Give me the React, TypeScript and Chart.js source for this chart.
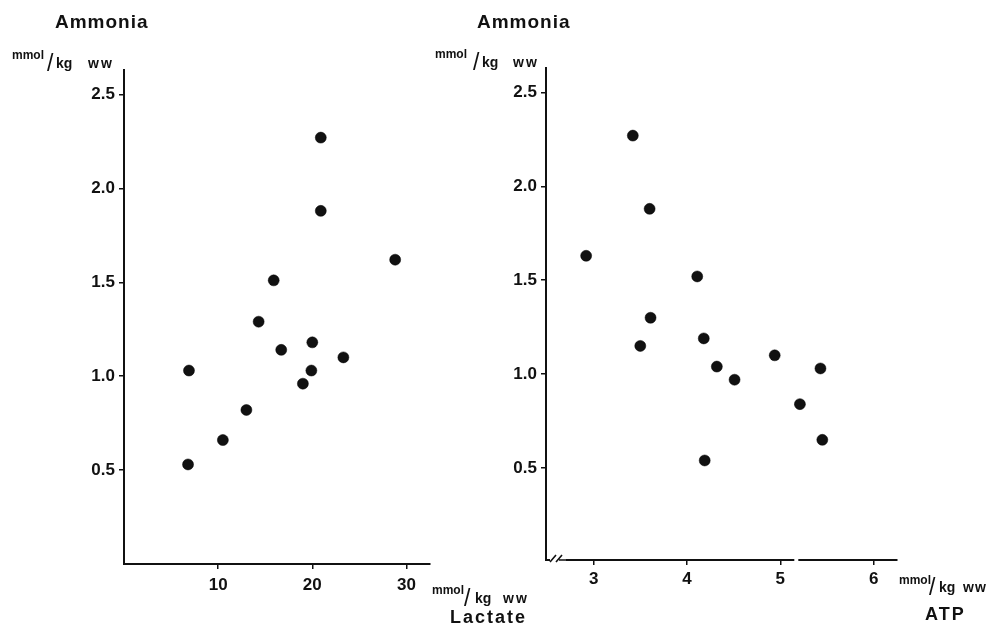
import React, { useEffect, useRef } from "react";
import { Chart, registerables } from "chart.js";

Chart.register(...registerables);

// ---- data ----
const lactate = [20.9, 20.9, 28.8, 15.9, 14.3, 16.7, 20.0, 23.3, 19.9, 19.0, 6.9, 13.0, 10.5, 6.8];
const ammoniaVsLactate = [2.27, 1.88, 1.62, 1.51, 1.29, 1.14, 1.18, 1.10, 1.03, 0.96, 1.03, 0.82, 0.66, 0.53];
const atp = [3.42, 3.60, 2.92, 4.11, 3.61, 3.50, 4.18, 4.32, 4.51, 4.94, 5.43, 5.21, 5.45, 4.19];
const ammoniaVsAtp = [2.27, 1.88, 1.63, 1.52, 1.30, 1.15, 1.19, 1.04, 0.97, 1.10, 1.03, 0.84, 0.65, 0.54];
const yTickValues = [0.5, 1.0, 1.5, 2.0, 2.5];
const yTickLabels = ["0.5", "1.0", "1.5", "2.0", "2.5"];
const lactateTickValues = [10, 20, 30];
const lactateTickLabels = ["10", "20", "30"];
const atpTickValues = [3, 4, 5, 6];
const atpTickLabels = ["3", "4", "5", "6"];

const FONT = "'Liberation Sans', Arial, Helvetica, sans-serif";
const INK = "#111";

type TextItem = { text: string; x: number; y: number; size: number; bold?: boolean; spacing?: number };

function textPlugin(id: string, items: TextItem[], axisBreak: boolean) {
  return {
    id,
    afterDraw(chart: any) {
      const ctx = chart.ctx as CanvasRenderingContext2D;
      ctx.save();
      ctx.fillStyle = INK;
      ctx.textBaseline = "alphabetic";
      ctx.textAlign = "left";
      for (const t of items) {
        ctx.font = `${t.bold === false ? "normal" : "bold"} ${t.size}px ${FONT}`;
        (ctx as any).letterSpacing = `${t.spacing || 0}px`;
        ctx.fillText(t.text, t.x, t.y);
      }
      (ctx as any).letterSpacing = "0px";
      if (axisBreak) {
        const a = chart.chartArea;
        const b = a.bottom;
        const l = a.left;
        ctx.fillStyle = "#fff";
        ctx.fillRect(l + 4, b - 4, 16, 8);
        // small scan gap in the axis line between 5 and 6
        const gx = chart.scales.x.getPixelForValue(5.15);
        ctx.fillRect(gx, b - 2, 4, 4);
        ctx.strokeStyle = INK;
        ctx.lineWidth = 1.6;
        ctx.beginPath();
        ctx.moveTo(l + 4, b + 2);
        ctx.lineTo(l + 10, b - 5);
        ctx.moveTo(l + 10, b + 2);
        ctx.lineTo(l + 16, b - 5);
        ctx.moveTo(l + 13, b);
        ctx.lineTo(l + 21, b);
        ctx.stroke();
      }
      ctx.restore();
    },
  };
}

function makeConfig(o: {
  xs: number[];
  ys: number[];
  xMin: number;
  xMax: number;
  xTicks: number[];
  xLabels: string[];
  yMin: number;
  yMax: number;
  padding: { left: number; right: number; top: number; bottom: number };
  yWidth: number;
  xHeight: number;
  xPad: number;
  texts: TextItem[];
  axisBreak: boolean;
  id: string;
}): any {
  const tickFont = { family: FONT, size: 17, weight: "bold" as const };
  return {
    type: "scatter",
    data: {
      datasets: [
        {
          data: o.xs.map((x, i) => ({ x, y: o.ys[i] })),
          pointRadius: 5.5,
          pointBackgroundColor: INK,
          pointBorderColor: "#000",
          pointBorderWidth: 0.5,
        },
      ],
    },
    options: {
      responsive: false,
      animation: false,
      devicePixelRatio: 1,
      layout: { padding: o.padding },
      plugins: { legend: { display: false }, tooltip: { enabled: false }, title: { display: false } },
      scales: {
        x: {
          type: "linear",
          min: o.xMin,
          max: o.xMax,
          afterBuildTicks: (s: any) => {
            s.ticks = o.xTicks.map((v) => ({ value: v }));
          },
          afterFit: (s: any) => {
            s.height = o.xHeight;
          },
          grid: { display: true, drawOnChartArea: false, drawTicks: true, tickLength: 5, color: INK, lineWidth: 1.5 },
          border: { display: true, color: INK, width: 2 },
          ticks: {
            color: INK,
            font: tickFont,
            padding: o.xPad,
            maxRotation: 0,
            autoSkip: false,
            callback: (_v: any, i: number) => o.xLabels[i],
          },
        },
        y: {
          type: "linear",
          min: o.yMin,
          max: o.yMax,
          afterBuildTicks: (s: any) => {
            s.ticks = yTickValues.map((v) => ({ value: v }));
          },
          afterFit: (s: any) => {
            s.width = o.yWidth;
          },
          grid: { display: true, drawOnChartArea: false, drawTicks: true, tickLength: 5, color: INK, lineWidth: 1.5 },
          border: { display: true, color: INK, width: 2 },
          ticks: {
            color: INK,
            font: tickFont,
            padding: 4,
            autoSkip: false,
            callback: (_v: any, i: number) => yTickLabels[i],
          },
        },
      },
    },
    plugins: [textPlugin(o.id, o.texts, o.axisBreak)],
  };
}

export default function App() {
  const leftRef = useRef<HTMLCanvasElement>(null);
  const rightRef = useRef<HTMLCanvasElement>(null);

  useEffect(() => {
    const left = new Chart(
      leftRef.current as HTMLCanvasElement,
      makeConfig({
        id: "leftTexts",
        xs: lactate,
        ys: ammoniaVsLactate,
        xMin: 0,
        xMax: 32.5,
        xTicks: lactateTickValues,
        xLabels: lactateTickLabels,
        yMin: 0,
        yMax: 2.63,
        padding: { left: 0, right: 572, top: 70, bottom: 0 },
        yWidth: 124,
        xHeight: 74,
        xPad: 6,
        axisBreak: false,
        texts: [
          { text: "Ammonia", x: 55, y: 28, size: 19, spacing: 1 },
          { text: "mmol", x: 12, y: 59, size: 12 },
          { text: "/", x: 47, y: 71, size: 23, bold: false },
          { text: "kg", x: 56, y: 68, size: 14 },
          { text: "ww", x: 88, y: 68, size: 14, spacing: 2 },
          { text: "mmol", x: 432, y: 594, size: 12 },
          { text: "/", x: 464, y: 606, size: 23, bold: false },
          { text: "kg", x: 475, y: 603, size: 14 },
          { text: "ww", x: 503, y: 603, size: 14, spacing: 2 },
          { text: "Lactate", x: 450, y: 623, size: 18, spacing: 2 },
        ],
      })
    );
    const right = new Chart(
      rightRef.current as HTMLCanvasElement,
      makeConfig({
        id: "rightTexts",
        xs: atp,
        ys: ammoniaVsAtp,
        xMin: 2.49,
        xMax: 6.25,
        xTicks: atpTickValues,
        xLabels: atpTickLabels,
        yMin: 0.01,
        yMax: 2.63,
        padding: { left: 446, right: 105, top: 68, bottom: 0 },
        yWidth: 100,
        xHeight: 78,
        xPad: 4,
        axisBreak: true,
        texts: [
          { text: "Ammonia", x: 477, y: 28, size: 19, spacing: 1 },
          { text: "mmol", x: 435, y: 58, size: 12 },
          { text: "/", x: 473, y: 70, size: 23, bold: false },
          { text: "kg", x: 482, y: 67, size: 14 },
          { text: "ww", x: 513, y: 67, size: 14, spacing: 2 },
          { text: "mmol", x: 899, y: 584, size: 12 },
          { text: "/", x: 929, y: 595, size: 23, bold: false },
          { text: "kg", x: 939, y: 592, size: 14 },
          { text: "ww", x: 963, y: 592, size: 14, spacing: 1 },
          { text: "ATP", x: 925, y: 620, size: 18, spacing: 2 },
        ],
      })
    );
    return () => {
      left.destroy();
      right.destroy();
    };
  }, []);

  return (
    <div style={{ position: "fixed", left: 0, top: 0, width: 1002, height: 638, background: "#fff" }}>
      <canvas ref={leftRef} width={1002} height={638} style={{ position: "absolute", left: 0, top: 0 }} />
      <canvas ref={rightRef} width={1002} height={638} style={{ position: "absolute", left: 0, top: 0 }} />
    </div>
  );
}
